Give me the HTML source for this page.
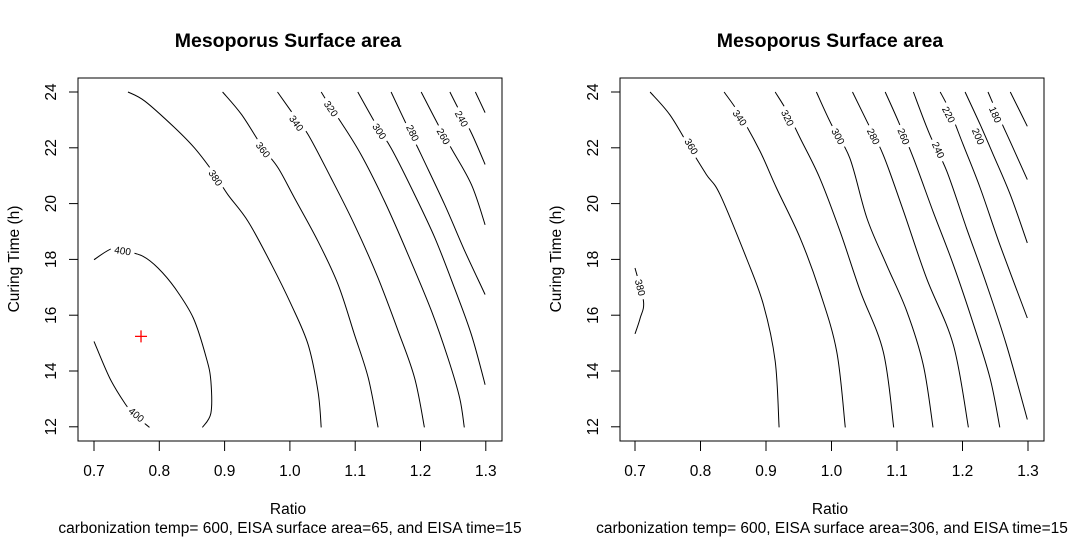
<!DOCTYPE html>
<html><head><meta charset="utf-8"><style>
html,body{margin:0;padding:0;background:#fff;}
svg{display:block;font-family:"Liberation Sans",Arial,sans-serif;}
</style></head><body>
<svg id="chart" width="1083" height="539" viewBox="0 0 1083 539" xmlns="http://www.w3.org/2000/svg"></svg>
<script>
// ---- data ----
const xTicks = [0.7, 0.8, 0.9, 1.0, 1.1, 1.2, 1.3];
const xTickLabels = ["0.7","0.8","0.9","1.0","1.1","1.2","1.3"];
const yTicks = [12, 14, 16, 18, 20, 22, 24];
const yTickLabels = ["12","14","16","18","20","22","24"];

const leftLevels = ["400","400","380","360","340","320","300","280","260","240",""];
const leftR = [
 [0.700,0.727,0.747,0.775,0.798,0.824,0.852,0.872,0.879,0.879,0.866],
 [0.700,0.724,0.747,0.762,0.785],
 [0.752,0.778,0.824,0.854,0.885,0.905,0.936,0.972,1.002,1.028,1.043,1.048],
 [0.897,0.926,0.959,0.982,1.007,1.043,1.074,1.099,1.120,1.135],
 [0.981,1.002,1.028,1.063,1.099,1.135,1.166,1.191,1.206],
 [1.048,1.063,1.079,1.109,1.145,1.181,1.217,1.242,1.260,1.267],
 [1.104,1.135,1.155,1.186,1.222,1.252,1.278,1.299],
 [1.155,1.181,1.201,1.237,1.268,1.299],
 [1.201,1.227,1.247,1.278,1.299],
 [1.245,1.260,1.278,1.299],
 [1.284,1.299]
];
const leftT = [
 [17.99,18.38,18.31,18.11,17.69,16.97,15.90,14.47,13.63,12.49,11.98],
 [15.06,13.75,12.85,12.43,11.98],
 [24,23.67,22.71,21.99,21.04,20.32,19.36,17.81,16.38,14.94,13.27,11.98],
 [24,23.19,21.99,21.28,20.20,18.65,17.09,15.30,13.75,11.98],
 [24,23.31,22.47,20.92,19.24,17.33,15.42,13.75,11.98],
 [24,23.43,22.89,21.75,20.08,18.17,16.14,14.47,13.03,11.98],
 [24,22.71,21.99,20.56,18.77,16.97,15.30,13.51],
 [24,22.71,21.75,19.96,18.29,16.74],
 [24,22.83,21.99,20.68,19.24],
 [24,23.31,22.53,21.40],
 [24,23.26]
];
const leftLabR = [0.744,0.765,0.886,0.959,1.010,1.063,1.137,1.188,1.235,1.263,0];
const leftLabT = [18.31,12.43,20.92,21.93,22.88,23.40,22.59,22.53,22.41,23.04,0];

const rightLevels = ["380","360","340","320","300","280","260","240","220","200","180",""];
const rightR = [
 [0.700,0.713,0.708,0.700],
 [0.723,0.753,0.784,0.809,0.830,0.870,0.896,0.914,0.920],
 [0.836,0.860,0.891,0.916,0.952,0.982,1.008,1.021],
 [0.914,0.932,0.952,0.982,1.013,1.044,1.079,1.095],
 [0.977,1.000,1.028,1.054,1.084,1.115,1.140,1.155],
 [1.032,1.054,1.079,1.110,1.145,1.186,1.209],
 [1.082,1.102,1.125,1.155,1.186,1.217,1.242,1.257],
 [1.125,1.150,1.176,1.206,1.237,1.267,1.299],
 [1.166,1.181,1.201,1.227,1.257,1.299],
 [1.204,1.227,1.247,1.273,1.299],
 [1.239,1.254,1.275,1.299],
 [1.273,1.299]
];
const rightT = [
 [17.69,16.50,15.90,15.33],
 [24,23.19,21.99,21.04,20.32,18.05,16.38,14.35,11.98],
 [24,23.19,21.87,20.56,18.77,16.86,14.70,11.98],
 [24,23.31,22.35,20.92,19.01,16.86,14.70,11.98],
 [24,22.83,21.63,19.48,17.81,16.14,14.23,11.98],
 [24,22.95,21.75,19.72,17.33,14.94,11.98],
 [24,22.95,21.63,19.72,17.81,15.66,13.75,11.98],
 [24,22.47,21.16,19.13,17.09,14.94,12.26],
 [24,23.31,22.11,20.56,18.53,15.90],
 [24,22.83,21.75,20.32,18.59],
 [24,23.19,22.11,20.86],
 [24,22.77]
];
const rightLabR = [0.708,0.786,0.860,0.933,1.010,1.064,1.110,1.163,1.179,1.224,1.250,0];
const rightLabT = [16.99,22.05,23.07,23.07,22.41,22.41,22.41,21.92,23.19,22.41,23.19,0];

const optimumR = [0.772];
const optimumT = [15.24];

// ---- drawing ----
const NS = "http://www.w3.org/2000/svg";
const svg = document.getElementById("chart");
function mk(tag, attrs, parent) {
  const e = document.createElementNS(NS, tag);
  for (const k in attrs) e.setAttribute(k, attrs[k]);
  (parent || svg).appendChild(e);
  return e;
}
function smoothPath(P) {
  let d = `M${P[0][0].toFixed(1)},${P[0][1].toFixed(1)}`;
  for (let i = 0; i < P.length - 1; i++) {
    const p0 = P[i-1] || P[i], p1 = P[i], p2 = P[i+1], p3 = P[i+2] || P[i+1];
    const c1x = p1[0] + (p2[0]-p0[0])/6, c1y = p1[1] + (p2[1]-p0[1])/6;
    const c2x = p2[0] - (p3[0]-p1[0])/6, c2y = p2[1] - (p3[1]-p1[1])/6;
    d += ` C${c1x.toFixed(1)},${c1y.toFixed(1)} ${c2x.toFixed(1)},${c2y.toFixed(1)} ${p2[0].toFixed(1)},${p2[1].toFixed(1)}`;
  }
  return d;
}

function panel(p) {
  const g = mk("g", {});
  
  
  const x = r => p.x0 + (r - 0.7) * p.kx;
  const y = t => 92 + (24 - t) * 27.9;

  for (let i = 0; i < p.R.length; i++) {
    const P = p.R[i].map((r, j) => [x(r), y(p.T[i][j])]);
    const pl = mk("path", {d: smoothPath(P), fill: "none", stroke: "#000", "stroke-width": 1}, g);
    
    
    if (p.L[i]) {
      const lx = x(p.LR[i]), ly = y(p.LT[i]);
      let best = 0, bd = 1e9;
      for (let j = 0; j < P.length - 1; j++) {
        const mx = (P[j][0] + P[j+1][0]) / 2, my = (P[j][1] + P[j+1][1]) / 2;
        const dd = (mx - lx) ** 2 + (my - ly) ** 2;
        if (dd < bd) { bd = dd; best = j; }
      }
      let dx = P[best+1][0] - P[best][0];
      let dy = P[best+1][1] - P[best][1];
      if (dx < 0) { dx = -dx; dy = -dy; }
      const ang = Math.atan2(dy, dx) * 180 / Math.PI;
      const lg = mk("g", {transform: `translate(${lx.toFixed(1)},${ly.toFixed(1)}) rotate(${ang.toFixed(1)})`}, g);
      mk("rect", {x: -12, y: -5, width: 24, height: 10, fill: "#fff"}, lg);
      const tx = mk("text", {x: 0, y: 3.5, "text-anchor": "middle", "font-size": 10, fill: "#000"}, lg);
      tx.textContent = p.L[i];
      
      
    }
  }
  const box = mk("rect", {x: p.bx, y: 78, width: 424, height: 363, fill: "none", stroke: "#000", "stroke-width": 1}, g);
  
  
  const xa = mk("g", {}, g);
  
  
  xTicks.forEach((v, i) => {
    mk("line", {x1: x(v), x2: x(v), y1: 441, y2: 451, stroke: "#000"}, xa);
    const t = mk("text", {x: x(v), y: 476, "text-anchor": "middle", "font-size": 15.5}, xa);
    t.textContent = xTickLabels[i];
    
    
  });
  const ya = mk("g", {}, g);
  
  
  yTicks.forEach((v, i) => {
    mk("line", {x1: p.bx, x2: p.bx - 9, y1: y(v), y2: y(v), stroke: "#000"}, ya);
    const t = mk("text", {x: 0, y: 0, "text-anchor": "middle", "font-size": 15.5,
      transform: `translate(${p.bx - 22},${y(v)}) rotate(-90)`}, ya);
    t.textContent = yTickLabels[i];
    
    
  });
  const cx = p.bx + 212;
  const title = mk("text", {x: p.bx + 210, y: 47, "text-anchor": "middle", "font-size": 19.5, "font-weight": "bold"}, g);
  title.textContent = "Mesoporus Surface area";
  
  
  const xt = mk("text", {x: cx - 2, y: 514, "text-anchor": "middle", "font-size": 15.5}, g);
  xt.textContent = "Ratio";
  
  
  const st = mk("text", {x: cx, y: 533, "text-anchor": "middle", "font-size": 15.5}, g);
  st.textContent = p.sub;
  
  
  const yt = mk("text", {x: 0, y: 0, "text-anchor": "middle", "font-size": 15.5,
    transform: `translate(${p.bx - 59},${259}) rotate(-90)`}, g);
  yt.textContent = "Curing Time (h)";
  
  
  if (p.opt) {
    optimumR.forEach((r, i) => {
      const px = x(r), py = y(optimumT[i]);
      const m = mk("path", {d: `M${px-6},${py}H${px+6}M${px},${py-6}V${py+6}`, stroke: "#ff0000", "stroke-width": 1.3}, g);
      
      
    });
  }
}

panel({name: "left-panel", bx: 78, x0: 94, kx: 653, R: leftR, T: leftT, L: leftLevels, LR: leftLabR, LT: leftLabT,
  sub: "carbonization temp= 600, EISA surface area=65, and EISA time=15", opt: true});
panel({name: "right-panel", bx: 620, x0: 635, kx: 655, R: rightR, T: rightT, L: rightLevels, LR: rightLabR, LT: rightLabT,
  sub: "carbonization temp= 600, EISA surface area=306, and EISA time=15", opt: false});
</script>
</body></html>
